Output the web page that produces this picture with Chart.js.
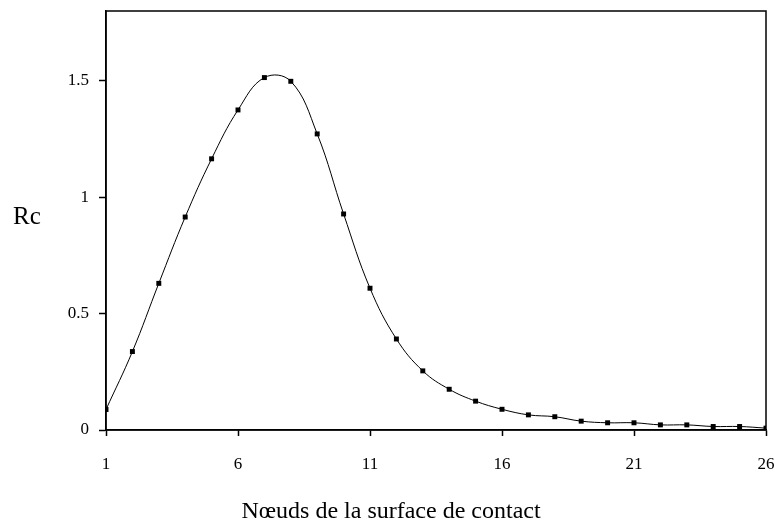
<!DOCTYPE html>
<html>
<head>
<meta charset="utf-8">
<script src="https://cdn.jsdelivr.net/npm/chart.js@4/dist/chart.umd.min.js"></script>
<style>
  html, body { margin: 0; padding: 0; background: #fff; }
  canvas { display: block; }
</style>
</head>
<body>
<canvas id="rc" width="775" height="532"></canvas>
<script>
const nodes = [1, 2, 3, 4, 5, 6, 7, 8, 9, 10, 11, 12, 13, 14, 15, 16, 17, 18, 19, 20, 21, 22, 23, 24, 25, 26];
const rcValues = [0.088, 0.337, 0.63, 0.915, 1.165, 1.375, 1.514, 1.498, 1.272, 0.928, 0.609, 0.391, 0.254,
  0.175, 0.124, 0.089, 0.065, 0.057, 0.038, 0.031, 0.031, 0.022, 0.022, 0.015, 0.015, 0.008];
const xTicks = [1, 6, 11, 16, 21, 26];
const yTicks = [0, 0.5, 1, 1.5];
const yLabel = "Rc";
const xLabel = "Nœuds de la surface de contact";

const serif = "'Liberation Serif', 'DejaVu Serif', serif";

// frame round the plot + the two axis titles (Rc is horizontal, so drawn by hand)
const framePlugin = {
  id: "frame",
  afterDraw(chart) {
    const a = chart.chartArea;
    const ctx = chart.ctx;
    ctx.save();
    ctx.strokeStyle = "#000";
    ctx.lineWidth = 1.5;
    ctx.strokeRect(a.left, a.top, a.right - a.left, a.bottom - a.top);
    ctx.fillStyle = "#000";
    ctx.textBaseline = "alphabetic";
    ctx.font = "25px " + serif;
    ctx.textAlign = "left";
    ctx.fillText(yLabel, 13, 224);
    ctx.font = "24px " + serif;
    ctx.textAlign = "center";
    ctx.fillText(xLabel, 391, 518);
    ctx.restore();
  }
};

new Chart(document.getElementById("rc").getContext("2d"), {
  type: "line",
  data: {
    datasets: [{
      data: nodes.map((n, i) => ({ x: n, y: rcValues[i] })),
      borderColor: "#000",
      borderWidth: 1,
      backgroundColor: "#000",
      pointStyle: "rect",
      pointRadius: 3.5,
      pointBorderWidth: 0,
      tension: 0.4,
      fill: false
    }]
  },
  options: {
    responsive: false,
    animation: false,
    layout: { padding: { left: 0, top: 11, right: 9, bottom: 0 } },
    plugins: { legend: { display: false }, tooltip: { enabled: false } },
    scales: {
      x: {
        type: "linear",
        min: 1,
        max: 26,
        afterBuildTicks: s => { s.ticks = xTicks.map(v => ({ value: v })); },
        afterFit: s => { s.height = 102; s.paddingLeft = 0; s.paddingRight = 0; },
        grid: { drawOnChartArea: false, drawTicks: true, tickLength: 6, tickColor: "#000", tickWidth: 1.5 },
        border: { color: "#000", width: 1.5 },
        ticks: { color: "#000", font: { family: serif, size: 17 }, padding: 18, maxRotation: 0 }
      },
      y: {
        min: 0,
        max: 1.8,
        afterBuildTicks: s => { s.ticks = yTicks.map(v => ({ value: v })); },
        afterFit: s => { s.width = 106; s.paddingTop = 0; s.paddingBottom = 0; },
        grid: { drawOnChartArea: false, drawTicks: true, tickLength: 7, tickColor: "#000", tickWidth: 1.5 },
        border: { color: "#000", width: 1.5 },
        ticks: { color: "#000", font: { family: serif, size: 17 }, padding: 10, callback: v => String(v) }
      }
    }
  },
  plugins: [framePlugin]
});
</script>
</body>
</html>
